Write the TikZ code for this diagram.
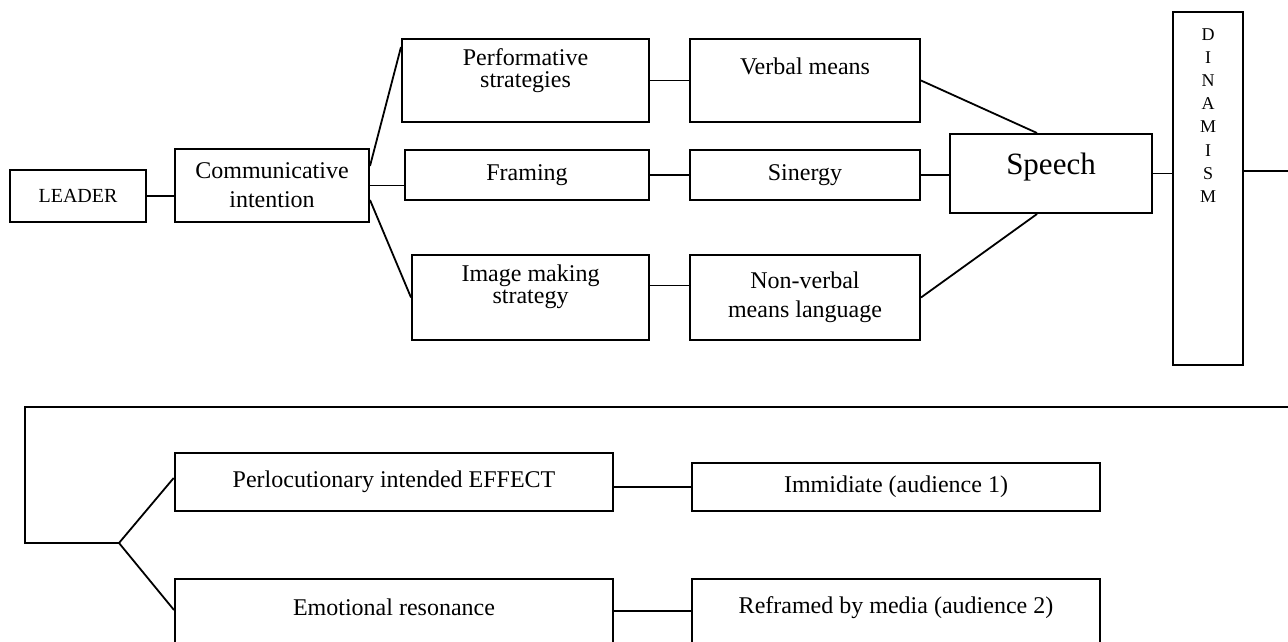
\documentclass[tikz,border=0pt]{standalone}
\usepackage{fontspec}
\setmainfont{Liberation Serif}
\begin{document}
\begin{tikzpicture}
[x=1pt,y=-1pt,line width=1.8pt,every edge/.append style={line width=1.8pt},
 box/.style={draw,line width=2pt,inner sep=0pt,align=center,font=\fontsize{24}{29}\selectfont},
 txt/.style={inner sep=0pt,align=center,font=\fontsize{24}{22}\selectfont}]
\clip (0,0) rectangle (1288,642);

\node[box,minimum width=136,minimum height=52,font=\fontsize{20}{24}\selectfont] (leader) at (78,196) {LEADER};
\node[box,minimum width=194,minimum height=73] (comm) at (272,185.5) {Communicative\\intention};

\node[box,minimum width=247,minimum height=83,label={[txt,yshift=10]center:Performative\\strategies}] (perf) at (525.5,80.5) {};
\node[box,minimum width=244,minimum height=50] (fram) at (527,175) {Framing};
\node[box,minimum width=237,minimum height=85,label={[txt,yshift=11]center:Image making\\strategy}] (image) at (530.5,297.5) {};

\node[box,minimum width=230,minimum height=83,label={[txt,yshift=14]center:Verbal means}] (verbal) at (805,80.5) {};
\node[box,minimum width=230,minimum height=50] (siner) at (805,175) {Sinergy};
\node[box,minimum width=230,minimum height=85] (nonverb) at (805,297.5) {Non-verbal\\means language};

\node[box,minimum width=202,minimum height=79,label={[txt,font=\fontsize{31}{36}\selectfont,yshift=6]center:Speech}] (speech) at (1051,173.5) {};
\node[box,minimum width=70,minimum height=353,label={[txt,font=\fontsize{18}{23.1}\selectfont,yshift=73]center:D\\I\\N\\A\\M\\I\\S\\M}] (dinam) at (1208,188.5) {};

\node[box,line width=2.6pt,minimum width=438,minimum height=58] (perl) at (394,482) {Perlocutionary intended EFFECT};
\node[box,minimum width=408,minimum height=48] (immid) at (896,487) {Immidiate (audience 1)};
\node[box,minimum width=438,minimum height=90,label={[txt,yshift=17]center:Emotional resonance}] (emot) at (394,624) {};
\node[box,minimum width=408,minimum height=90,label={[txt,yshift=16]center:Reframed by media (audience 2)}] (refr) at (896,624) {};

\coordinate (outR) at (1288,171);
\coordinate (topR) at (1288,407);
\coordinate (topL) at (25,407);
\coordinate (corner) at (25,543);
\coordinate (fork) at (119,543);

\path
(leader) edge (leader -| comm.west)

([yshift=19.5]comm.east) edge ([yshift=-9]perf.north west)
(comm.east) edge (comm.east -| fram.west)
([yshift=-14.5]comm.east) edge (image.west)

(perf) edge (verbal)
(fram) edge (siner)
([yshift=12]image.east) edge ([yshift=12]nonverb.west)

(verbal.east) edge ([xshift=-14]speech.north)
(siner.east) edge (siner.east -| speech.west)
(nonverb.east) edge ([xshift=-14]speech.south)

(speech.east) edge (speech.east -| dinam.west)
(dinam.east |- outR) edge (outR)
;

\draw (topR) -- (topL) -- (corner) -- (fork);
\path
(fork) edge ([yshift=4]perl.west)
(fork) edge ([yshift=14]emot.west)
(immid.west -| perl.east) edge (immid.west)
([yshift=13]emot.east) edge ([yshift=13]refr.west)
;
\end{tikzpicture}
\end{document}
